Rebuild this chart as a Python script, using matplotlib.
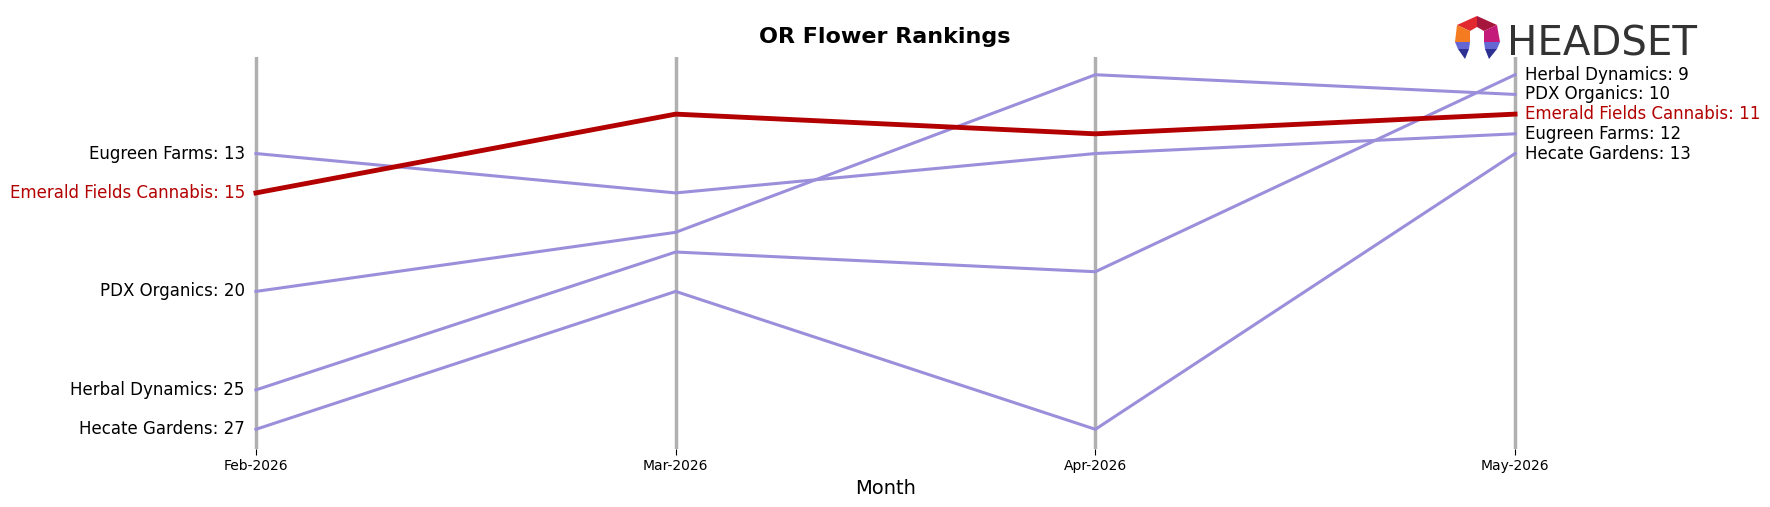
import matplotlib
matplotlib.use("Agg")
import matplotlib.pyplot as plt
from matplotlib.patches import Polygon

months = ["Feb-2026", "Mar-2026", "Apr-2026", "May-2026"]
brands = ["Eugreen Farms", "Emerald Fields Cannabis", "PDX Organics", "Herbal Dynamics", "Hecate Gardens"]
eugreen = [13, 15, 13, 12]
emerald = [15, 11, 12, 11]
pdx = [20, 17, 9, 10]
herbal = [25, 18, 19, 9]
hecate = [27, 20, 27, 13]
ranks = [eugreen, emerald, pdx, herbal, hecate]
highlight = "Emerald Fields Cannabis"

W, H = 1770, 507
fig = plt.figure(figsize=(W / 100, H / 100), dpi=100)
ax = fig.add_axes([193 / W, 1 - 449 / H, (1578 - 193) / W, (449 - 57) / H])

x = list(range(len(months)))
for xi in x:
    ax.axvline(xi, color="#b0b0b0", lw=2.5, zorder=1)

purple = "#9b8fdb"
red = "#b30000"
for name, r in zip(brands, ranks):
    hl = name == highlight
    ax.plot(x, r, color=red if hl else purple, lw=3.5 if hl else 2.2, zorder=3 if hl else 2)
    c = red if hl else "black"
    ax.annotate(f"{name}: {r[0]}", (x[0], r[0]), xytext=(-8, 0), textcoords="offset points",
                ha="right", va="center", fontsize=12, color=c)
    ax.annotate(f"{name}: {r[-1]}", (x[-1], r[-1]), xytext=(7, 0), textcoords="offset points",
                ha="left", va="center", fontsize=12, color=c)

ax.set_xlim(-0.15, 3.15)
ax.set_ylim(28, 8.1)
ax.set_xticks(x)
ax.set_xticklabels(months, fontsize=10)
ax.set_yticks([])
ax.set_xlabel("Month", fontsize=14, labelpad=4)
for s in ax.spines.values():
    s.set_visible(False)
ax.tick_params(axis="x", length=4)
fig.text(0.5, 1 - 37 / H, "OR Flower Rankings", ha="center", va="center",
         fontsize=16, fontweight="bold")

# Logo
lax = fig.add_axes([1450 / W, 1 - 62 / H, 240 / W, 50 / H])
lax.set_xlim(1450, 1690)
lax.set_ylim(62, 12)
lax.axis("off")
polys = [
    ([(1457, 25), (1477, 16), (1477, 27), (1470, 31)], "#e0282e"),
    ([(1457, 25), (1470, 31), (1470, 42), (1455, 42)], "#f47b20"),
    ([(1477, 16), (1497, 25), (1484, 31), (1477, 27)], "#a6163c"),
    ([(1497, 25), (1500, 42), (1484, 42), (1484, 31)], "#c41a7a"),
    ([(1455, 42), (1470, 42), (1469, 49), (1458, 49)], "#6466d4"),
    ([(1458, 49), (1469, 49), (1465, 59)], "#2e3192"),
    ([(1484, 42), (1500, 42), (1497, 49), (1485, 49)], "#6466d4"),
    ([(1485, 49), (1497, 49), (1489, 59)], "#2e3192"),
]
for pts, col in polys:
    lax.add_patch(Polygon(pts, closed=True, facecolor=col, edgecolor="none"))
lax.text(1507, 55, "HEADSET", ha="left", va="baseline", fontsize=29,
         family=["DejaVu Sans"], color="#333333")

fig.savefig("out.png", dpi=100)
